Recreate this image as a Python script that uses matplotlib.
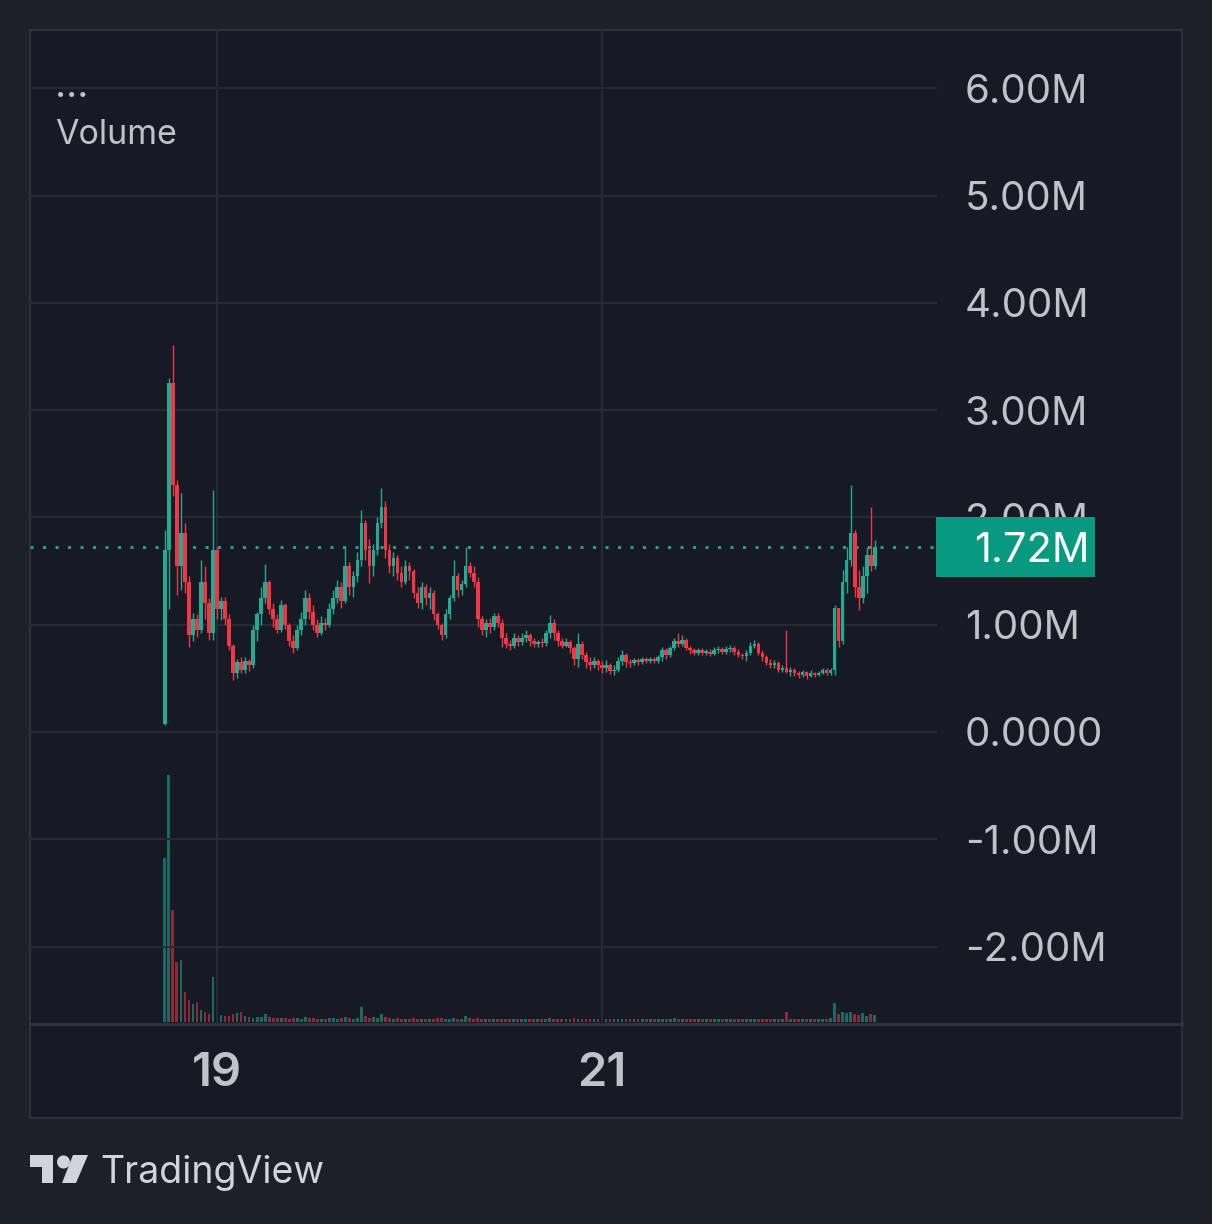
import numpy as np
import matplotlib
matplotlib.use("Agg")
import matplotlib.pyplot as plt
import matplotlib.transforms as mtransforms
from matplotlib.patches import Rectangle, Circle, Polygon
from matplotlib.lines import Line2D

plt.rcParams['font.family'] = ['Inter', 'DejaVu Sans']

# 30 minute candles, starting on the 18th at 17:30
T0 = 18 + 17.5 / 24
STEP = 1 / 48
FIRST_OPEN = 0.07
LAST_PRICE = 1.724

close = [1.70, 3.25, 2.30, 1.55, 1.85, 1.40, 0.90, 1.05, 0.95, 1.40,
         1.20, 0.92, 1.70, 1.15, 1.22, 1.05, 0.80, 0.55, 0.65, 0.58,
         0.66, 0.62, 0.95, 1.10, 1.25, 1.40, 1.15, 1.05, 0.95, 1.18,
         1.00, 0.85, 0.78, 0.95, 1.05, 1.25, 1.12, 1.00, 0.92, 1.02,
         1.00, 1.15, 1.25, 1.35, 1.22, 1.55, 1.35, 1.45, 1.60, 1.95,
         1.70, 1.55, 1.70, 1.95, 2.10, 1.70, 1.55, 1.62, 1.48, 1.40,
         1.55, 1.50, 1.30, 1.20, 1.35, 1.25, 1.30, 1.10, 1.00, 0.90,
         1.10, 1.25, 1.45, 1.32, 1.38, 1.55, 1.48, 1.40, 1.05, 0.95,
         1.02, 0.98, 1.08, 1.02, 0.88, 0.82, 0.80, 0.88, 0.84, 0.88,
         0.90, 0.85, 0.82, 0.84, 0.83, 0.92, 1.02, 0.92, 0.85, 0.80,
         0.84, 0.78, 0.68, 0.82, 0.72, 0.65, 0.62, 0.66, 0.62, 0.60,
         0.62, 0.57, 0.58, 0.66, 0.72, 0.65, 0.64, 0.67, 0.65, 0.68,
         0.66, 0.68, 0.66, 0.70, 0.76, 0.72, 0.78, 0.85, 0.82, 0.86,
         0.78, 0.76, 0.74, 0.76, 0.74, 0.75, 0.73, 0.76, 0.77, 0.75,
         0.77, 0.78, 0.75, 0.72, 0.71, 0.74, 0.80, 0.82, 0.74, 0.70,
         0.64, 0.62, 0.64, 0.58, 0.60, 0.56, 0.58, 0.55, 0.53, 0.56,
         0.52, 0.55, 0.53, 0.55, 0.58, 0.55, 0.58, 1.16, 0.85, 1.40,
         1.60, 1.85, 1.35, 1.25, 1.45, 1.65, 1.55, 1.72]

high = [1.88, 3.30, 3.61, 2.35, 2.23, 1.95, 1.45, 1.11, 1.10, 1.60,
        1.55, 1.25, 2.26, 1.72, 1.26, 1.26, 1.10, 0.82, 0.68, 0.70,
        0.70, 0.68, 1.00, 1.12, 1.35, 1.57, 1.42, 1.20, 1.10, 1.23,
        1.20, 1.02, 0.90, 1.00, 1.12, 1.32, 1.30, 1.18, 1.05, 1.08,
        1.06, 1.20, 1.32, 1.42, 1.40, 1.72, 1.58, 1.50, 1.68, 2.07,
        1.98, 1.80, 1.75, 2.00, 2.27, 2.15, 1.75, 1.68, 1.65, 1.55,
        1.60, 1.58, 1.52, 1.35, 1.40, 1.38, 1.35, 1.32, 1.12, 1.02,
        1.15, 1.28, 1.60, 1.48, 1.42, 1.72, 1.58, 1.55, 1.44, 1.08,
        1.05, 1.06, 1.11, 1.11, 1.05, 0.92, 0.86, 0.92, 0.90, 0.92,
        0.95, 0.92, 0.88, 0.86, 0.88, 0.95, 1.09, 1.05, 0.95, 0.88,
        0.88, 0.86, 0.80, 0.92, 0.85, 0.75, 0.70, 0.70, 0.68, 0.66,
        0.67, 0.64, 0.62, 0.70, 0.76, 0.74, 0.68, 0.69, 0.69, 0.70,
        0.70, 0.70, 0.70, 0.72, 0.79, 0.78, 0.80, 0.88, 0.92, 0.90,
        0.88, 0.80, 0.78, 0.78, 0.78, 0.77, 0.77, 0.79, 0.80, 0.79,
        0.80, 0.81, 0.80, 0.77, 0.74, 0.76, 0.84, 0.86, 0.84, 0.76,
        0.72, 0.68, 0.67, 0.66, 0.62, 0.95, 0.61, 0.60, 0.57, 0.58,
        0.57, 0.58, 0.56, 0.57, 0.60, 0.60, 0.60, 1.18, 1.16, 1.51,
        1.72, 2.30, 1.88, 1.51, 1.55, 1.72, 2.10, 1.79]

low = [0.065, 1.15, 2.20, 1.28, 1.32, 1.30, 0.79, 0.85, 0.89, 0.92,
       1.05, 0.86, 0.86, 1.05, 1.04, 1.00, 0.76, 0.48, 0.50, 0.55,
       0.55, 0.57, 0.60, 0.85, 1.00, 1.20, 1.10, 0.98, 0.92, 0.93,
       0.96, 0.80, 0.74, 0.76, 0.90, 1.00, 1.05, 0.95, 0.89, 0.90,
       0.95, 0.98, 1.10, 1.20, 1.16, 1.20, 1.28, 1.26, 1.40, 1.55,
       1.60, 1.39, 1.45, 1.65, 1.90, 1.62, 1.48, 1.45, 1.42, 1.35,
       1.38, 1.42, 1.25, 1.16, 1.15, 1.18, 1.15, 1.04, 0.96, 0.86,
       0.88, 1.05, 1.22, 1.26, 1.28, 1.35, 1.44, 1.35, 0.98, 0.90,
       0.89, 0.92, 0.95, 0.98, 0.79, 0.78, 0.76, 0.78, 0.80, 0.81,
       0.84, 0.80, 0.79, 0.79, 0.79, 0.80, 0.88, 0.86, 0.80, 0.78,
       0.79, 0.74, 0.62, 0.61, 0.68, 0.60, 0.58, 0.60, 0.58, 0.55,
       0.56, 0.54, 0.53, 0.56, 0.62, 0.61, 0.61, 0.62, 0.62, 0.63,
       0.64, 0.64, 0.64, 0.64, 0.66, 0.68, 0.70, 0.76, 0.79, 0.80,
       0.76, 0.73, 0.72, 0.72, 0.72, 0.72, 0.71, 0.72, 0.74, 0.73,
       0.73, 0.75, 0.72, 0.70, 0.68, 0.66, 0.72, 0.78, 0.72, 0.66,
       0.62, 0.60, 0.60, 0.56, 0.56, 0.55, 0.52, 0.52, 0.50, 0.51,
       0.49, 0.51, 0.51, 0.52, 0.54, 0.53, 0.53, 0.53, 0.79, 0.82,
       1.30, 1.55, 1.26, 1.14, 1.20, 1.30, 1.50, 1.52]

volume = [164, 247, 112, 60, 62, 30, 22, 18, 20, 12,
          10, 8, 45, 16, 7, 6, 6, 8, 9, 10,
          6, 5, 4, 5, 5, 8, 5, 4, 4, 4,
          4, 3, 4, 4, 3, 5, 4, 4, 3, 3,
          3, 4, 4, 3, 4, 5, 4, 3, 4, 15,
          6, 4, 5, 4, 8, 5, 4, 3, 4, 3,
          3, 3, 4, 3, 3, 3, 3, 3, 4, 4,
          3, 3, 4, 3, 3, 6, 4, 3, 4, 3,
          3, 3, 3, 3, 3, 3, 3, 3, 3, 3,
          3, 3, 3, 3, 3, 3, 4, 3, 3, 3,
          3, 3, 4, 3, 3, 3, 3, 3, 3, 3,
          3, 3, 3, 3, 3, 3, 3, 3, 3, 3,
          3, 3, 3, 3, 3, 3, 3, 4, 3, 3,
          3, 3, 3, 3, 3, 3, 3, 3, 3, 3,
          3, 3, 3, 3, 3, 3, 3, 3, 3, 3,
          3, 3, 3, 3, 3, 10, 3, 3, 3, 3,
          3, 3, 3, 3, 3, 3, 4, 19, 8, 10,
          9, 10, 8, 7, 9, 6, 8, 7]

price_ticks = [-2, -1, 0, 1, 2, 3, 4, 5, 6]
price_labels = ['-2.00M', '-1.00M', '0.0000', '1.00M', '2.00M',
                '3.00M', '4.00M', '5.00M', '6.00M']
day_ticks = [19, 21]
day_labels = ['19', '21']

OUTER = '#1d1f29'
INNER = '#161a24'
GRID = '#262a35'
BORDER = '#2e313b'
TXT = '#bfc2c9'
GREEN = '#22ab94'
RED = '#f23645'
LABEL_BG = '#089981'

W, H = 1212, 1224


def fx(px):
    return px / W


def fy(py):
    return 1 - py / H


close = np.array(close)
high = np.array(high)
low = np.array(low)
volume = np.array(volume)
opn = np.r_[FIRST_OPEN, close[:-1]]
t = T0 + np.arange(len(close)) * STEP
colors = np.where(close >= opn, GREEN, RED)

fig = plt.figure(figsize=(W / 100, H / 100), dpi=100, facecolor=OUTER)

# panel background + frame
fig.add_artist(Rectangle((fx(30), fy(1118)), fx(1182) - fx(30), fy(30) - fy(1118),
                         transform=fig.transFigure, facecolor=INNER,
                         edgecolor=BORDER, linewidth=1.5, zorder=-5))
fig.add_artist(Line2D([fx(30), fx(1182)], [fy(1024), fy(1024)],
                      transform=fig.transFigure, color='#33363f', linewidth=2, zorder=-4))

rect = [fx(30), fy(1024), fx(937) - fx(30), fy(30) - fy(1024)]
xlim = (19 + (30 - 217) / 192.5, 19 + (937 - 217) / 192.5)

# volume overlay (own scale, bottom of pane)
axv = fig.add_axes(rect)
axv.bar(t, volume, width=STEP * 0.7, color=colors, alpha=0.55, linewidth=0)
axv.set_xlim(xlim)
axv.set_ylim(-2, 992)
axv.axis('off')

ax = fig.add_axes(rect, facecolor='none')
ax.vlines(t, low, high, colors=colors, linewidth=1.0, zorder=3)
ax.bar(t, np.maximum(np.abs(close - opn), 0.012), bottom=np.minimum(opn, close),
       width=STEP * 0.92, color=colors, linewidth=0, zorder=3)
ax.axhline(LAST_PRICE, color=GREEN, linewidth=2, linestyle=(0, (1.1, 3.4)), zorder=2)

ax.set_xlim(xlim)
ax.set_ylim((732 - 1024) / 107.3, (732 - 30) / 107.3)
ax.set_yticks(price_ticks)
ax.set_yticklabels(price_labels)
ax.yaxis.tick_right()
ax.set_xticks(day_ticks)
ax.set_xticklabels(day_labels)
for lbl in ax.get_xticklabels():
    lbl.set_fontweight('semibold')
ax.tick_params(axis='y', length=0, pad=20, labelsize=29, labelcolor=TXT)
ax.tick_params(axis='x', length=0, pad=20, labelsize=34, labelcolor=TXT)
ax.grid(True, color=GRID, linewidth=1.5)
ax.set_axisbelow(True)
for s in ax.spines.values():
    s.set_visible(False)

# last price label on the scale
blend = mtransforms.blended_transform_factory(fig.transFigure, ax.transData)
fig.add_artist(Rectangle((fx(936), LAST_PRICE - 0.28), fx(1095) - fx(936), 0.56,
                         transform=blend, facecolor=LABEL_BG, edgecolor='none', zorder=10))
fig.text(fx(1090), LAST_PRICE, '1.72M', transform=blend, color='white', fontsize=30,
         va='center_baseline', ha='right', zorder=11)

fig.text(fx(55), fy(97), '...', color=TXT, fontsize=28, va='baseline')
fig.text(fx(55), fy(135), 'Volume', color=TXT, fontsize=24.5, va='center')

# TradingView logo
LOGO = '#d1d4dc'
fig.add_artist(Rectangle((fx(30), fy(1167)), fx(53) - fx(30), fy(1155) - fy(1167),
                         transform=fig.transFigure, facecolor=LOGO, edgecolor='none'))
fig.add_artist(Rectangle((fx(42), fy(1183)), fx(53) - fx(42), fy(1155) - fy(1183),
                         transform=fig.transFigure, facecolor=LOGO, edgecolor='none'))
fig.add_artist(Polygon([(fx(73), fy(1155)), (fx(88), fy(1155)), (fx(76), fy(1183)), (fx(62), fy(1183))],
                       closed=True, transform=fig.transFigure, facecolor=LOGO, edgecolor='none'))
fig.add_artist(Circle((fx(63.5), fy(1162)), 6.5 / W, transform=fig.transFigure,
                      facecolor=LOGO, edgecolor='none'))
fig.text(fx(100), fy(1183), 'TradingView', color=LOGO, fontsize=27, va='baseline')

plt.savefig('out.png', dpi=100, facecolor=OUTER)
